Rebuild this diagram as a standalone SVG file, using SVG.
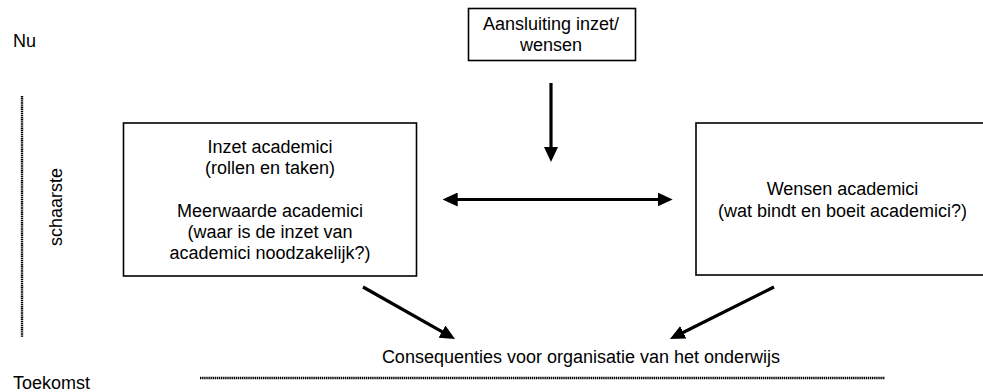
<svg xmlns="http://www.w3.org/2000/svg" width="983" height="392" viewBox="0 0 983 392">
<defs>
<marker id="ah" markerUnits="userSpaceOnUse" markerWidth="15" markerHeight="14" refX="6" refY="7" orient="auto-start-reverse" viewBox="0 0 15 14">
<path d="M0,0 L15,7 L0,14 z" fill="#000"/>
</marker>
<style>
text{font-family:"Liberation Sans",Arial,sans-serif;font-size:18px;fill:#000}
.c{text-anchor:middle}
.box{fill:#fff;stroke:#000;stroke-width:1.6}
.arr{stroke:#000;stroke-width:3.2;fill:none;marker-end:url(#ah)}
.dot{stroke:#000;stroke-width:2.4;stroke-dasharray:1.4 0.7;fill:none}
</style>
</defs>
<rect width="983" height="392" fill="#fff"/>
<g id="labels">
<text x="13" y="47">Nu</text>
<text x="13" y="388.5">Toekomst</text>
<text class="c" transform="translate(62,207) rotate(-90)">schaarste</text>
<line class="dot" x1="22" y1="96" x2="22" y2="337"/>
<line class="dot" x1="200" y1="378" x2="885" y2="378"/>
</g>
<g id="aansluiting">
<rect class="box" x="468.5" y="8.5" width="167" height="52"/>
<text class="c" x="551" y="29.5">Aansluiting inzet/</text>
<text class="c" x="551" y="51">wensen</text>
</g>
<g id="inzet">
<rect class="box" x="123.5" y="123" width="293" height="153"/>
<text class="c" x="270" y="153">Inzet academici</text>
<text class="c" x="270" y="174">(rollen en taken)</text>
<text class="c" x="270" y="217">Meerwaarde academici</text>
<text class="c" x="270" y="238">(waar is de inzet van</text>
<text class="c" x="270" y="259">academici noodzakelijk?)</text>
</g>
<g id="wensen">
<rect class="box" x="696" y="123" width="295" height="152"/>
<text class="c" x="842.5" y="195">Wensen academici</text>
<text class="c" x="842.5" y="217">(wat bindt en boeit academici?)</text>
</g>
<g id="consequenties">
<text class="c" x="581" y="363">Consequenties voor organisatie van het onderwijs</text>
</g>
<g id="connectors">
<line class="arr" x1="551" y1="83" x2="551" y2="153"/>
<line class="arr" x1="451.7" y1="199.5" x2="663.7" y2="199.5" style="marker-start:url(#ah)"/>
<line class="arr" x1="363" y1="287" x2="447.2" y2="334.6"/>
<line class="arr" x1="774" y1="287" x2="678" y2="335"/>
</g>
</svg>
